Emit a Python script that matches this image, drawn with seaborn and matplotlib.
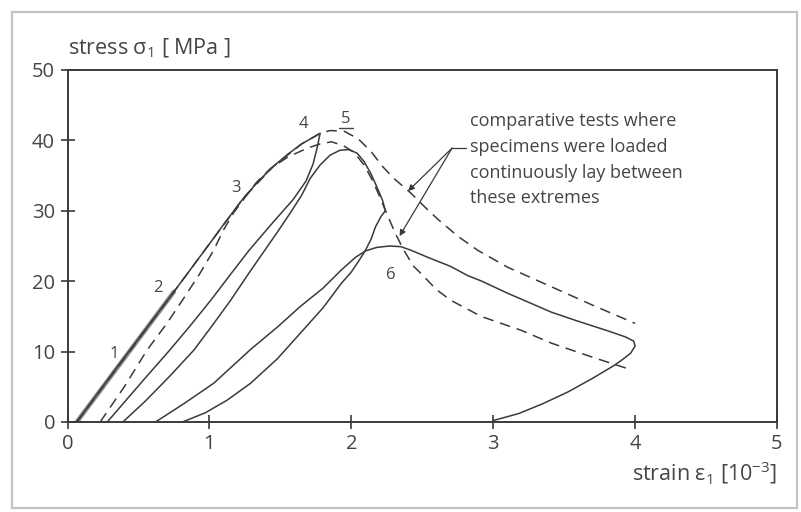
import pandas as pd
import matplotlib.pyplot as plt
import seaborn as sns
from matplotlib.patches import Rectangle

# ---- curves (strain in 1e-3, stress in MPa) ----
# thick band of first load/unload cycles (points 1 and 2)
band_x = [0.065, 0.75]
band_y = [0.0, 18.5]

# envelope, solid, up to point 4
env_x = [0.065, 0.35, 0.75, 1.0, 1.12, 1.24, 1.35, 1.45, 1.55, 1.65, 1.72, 1.78]
env_y = [0.0, 7.8, 18.5, 25.3, 28.6, 31.8, 34.3, 36.3, 38.0, 39.5, 40.3, 41.0]

# unloading from point 4
unload4_x = [1.78, 1.76, 1.73, 1.68, 1.59, 1.45, 1.28, 1.15, 1.01, 0.87, 0.72, 0.55, 0.40, 0.28]
unload4_y = [41.0, 39.0, 36.6, 34.2, 31.6, 28.4, 24.4, 21.0, 17.3, 13.8, 10.2, 6.3, 2.8, 0.0]

# reloading to the inner peak and down
reload_x = [0.39, 0.55, 0.72, 0.89, 1.02, 1.15, 1.27, 1.38, 1.48, 1.57, 1.65, 1.71, 1.78,
            1.85, 1.92, 1.98, 2.04, 2.09, 2.14, 2.18, 2.22, 2.24]
reload_y = [0.0, 3.0, 6.5, 10.2, 13.7, 17.3, 20.9, 24.1, 27.0, 29.7, 32.2, 34.6, 36.5,
            37.9, 38.6, 38.7, 38.2, 37.0, 35.2, 33.4, 31.5, 30.0]

# unloading after the inner peak
unload5_x = [2.24, 2.21, 2.17, 2.14, 2.10, 2.05, 2.0, 1.93, 1.80, 1.64, 1.48, 1.29, 1.125, 0.97, 0.81]
unload5_y = [30.0, 29.2, 27.7, 26.0, 24.4, 22.8, 21.3, 19.7, 16.2, 12.6, 9.0, 5.5, 3.1, 1.3, 0.0]

# reloading through point 6 to strain 4 and unloading
tail_x = [0.62, 0.82, 1.03, 1.29, 1.48, 1.64, 1.80, 1.93, 2.03, 2.10, 2.18, 2.27, 2.35, 2.42,
          2.55, 2.70, 2.82, 2.92, 3.10, 3.25, 3.41, 3.60, 3.80, 3.93, 3.99, 4.0, 3.97, 3.92,
          3.85, 3.70, 3.53, 3.35, 3.18, 3.0]
tail_y = [0.0, 2.6, 5.5, 10.3, 13.5, 16.4, 19.0, 21.6, 23.4, 24.3, 24.8, 25.0, 24.9, 24.4,
          23.3, 22.1, 20.8, 20.0, 18.3, 17.0, 15.6, 14.3, 13.0, 12.1, 11.5, 10.8, 9.8, 9.0,
          8.0, 6.2, 4.3, 2.6, 1.2, 0.2]

# comparative tests, dashed: upper (through 5) and lower
dash_hi_x = [0.065, 0.75, 1.0, 1.24, 1.45, 1.65, 1.78, 1.85, 1.95, 2.05, 2.14, 2.22, 2.30,
             2.42, 2.52, 2.61, 2.75, 2.89, 3.10, 3.40, 3.70, 4.0]
dash_hi_y = [0.0, 18.5, 25.3, 31.8, 36.3, 39.5, 41.0, 41.4, 41.3, 40.2, 38.4, 36.3, 34.6,
             32.5, 30.5, 28.8, 26.4, 24.4, 22.0, 19.3, 16.6, 14.0]
dash_lo_x = [0.23, 0.40, 0.56, 0.70, 0.81, 0.93, 1.03, 1.10, 1.17, 1.24, 1.33, 1.43, 1.55,
             1.69, 1.78, 1.86, 1.94, 2.02, 2.09, 2.15, 2.20, 2.25, 2.31, 2.37, 2.44, 2.515,
             2.60, 2.70, 2.915, 3.20, 3.41, 3.70, 3.975]
dash_lo_y = [0.0, 5.0, 10.2, 14.0, 17.3, 21.0, 24.4, 27.3, 29.7, 31.6, 34.0, 36.0, 37.6,
             38.9, 39.5, 39.8, 39.3, 38.3, 36.5, 34.3, 32.0, 29.6, 26.8, 24.4, 22.1, 20.6,
             18.8, 17.3, 15.0, 13.0, 11.2, 9.2, 7.4]

# load step numbers
step_labels = ['1', '2', '3', '4', '5', '6']
step_x = [0.33, 0.64, 1.19, 1.66, 1.96, 2.28]
step_y = [9.6, 19.0, 33.2, 42.3, 43.0, 20.9]

curves = {
    'band': (band_x, band_y),
    'envelope': (env_x, env_y),
    'unload4': (unload4_x, unload4_y),
    'reload': (reload_x, reload_y),
    'unload5': (unload5_x, unload5_y),
    'tail': (tail_x, tail_y),
    'dash_hi': (dash_hi_x, dash_hi_y),
    'dash_lo': (dash_lo_x, dash_lo_y),
}
rows = []
for name, (xs, ys) in curves.items():
    for i, (x, y) in enumerate(zip(xs, ys)):
        rows.append({'curve': name, 'order': i, 'strain': x, 'stress': y})
df = pd.DataFrame(rows)

sns.set_theme(style='white')
plt.rcParams['font.family'] = ['Open Sans', 'DejaVu Sans']
plt.rcParams['mathtext.fontset'] = 'custom'
plt.rcParams['mathtext.rm'] = 'Open Sans'
plt.rcParams['mathtext.it'] = 'Open Sans:italic'

ink = '#3a3a3a'
txt = '#454545'

fig = plt.figure(figsize=(8.01, 5.12), dpi=100)
ax = fig.add_axes([0.0843, 0.1758, 0.8857, 0.6875])

line_styles = {
    'band': dict(color='#8a8a8a', lw=3.2, linestyle='-'),
    'envelope': dict(color=ink, lw=1.1, linestyle='-'),
    'unload4': dict(color=ink, lw=1.1, linestyle='-'),
    'reload': dict(color=ink, lw=1.1, linestyle='-'),
    'unload5': dict(color=ink, lw=1.1, linestyle='-'),
    'tail': dict(color=ink, lw=1.1, linestyle='-'),
    'dash_hi': dict(color=ink, lw=1.1, linestyle=(0, (7, 4.5))),
    'dash_lo': dict(color=ink, lw=1.1, linestyle=(0, (7, 4.5))),
}
for name, sub in df.groupby('curve', sort=False):
    sns.lineplot(data=sub, x='strain', y='stress', sort=False, estimator=None,
                 ax=ax, **line_styles[name])

for lab, x, y in zip(step_labels, step_x, step_y):
    ax.text(x, y, lab, fontsize=12, color=txt, ha='center', va='center')
# step 5 is underlined in the original
ax.plot([1.91, 2.01], [41.75, 41.75], color=txt, lw=1.0)

# annotation with two arrows pointing at the dashed curves
note = 'comparative tests where\nspecimens were loaded\ncontinuously lay between\nthese extremes'
ax.text(2.84, 44.0, note, fontsize=13, color=txt, ha='left', va='top', linespacing=1.55)
ax.plot([2.71, 2.81], [38.9, 38.9], color=ink, lw=0.9)
arrow = dict(arrowstyle='-|>', color=ink, lw=0.9, mutation_scale=9, shrinkA=0, shrinkB=0)
ax.annotate('', xy=(2.40, 32.8), xytext=(2.71, 38.9), arrowprops=arrow)
ax.annotate('', xy=(2.34, 26.4), xytext=(2.71, 38.9), arrowprops=arrow)

ax.set_xlim(0, 5)
ax.set_ylim(0, 50)
ax.set_xticks([0, 1, 2, 3, 4, 5])
ax.set_yticks([0, 10, 20, 30, 40, 50])
ax.tick_params(direction='inout', length=10, width=1.2, color=ink, labelsize=14.5,
               labelcolor=txt, left=True, bottom=True, pad=4)
for sp in ax.spines.values():
    sp.set_color(ink)
    sp.set_linewidth(1.4)

ax.set_ylabel('stress σ$_1$ [ MPa ]', rotation=0, fontsize=15.5, color=txt, ha='left', va='baseline')
ax.yaxis.set_label_coords(0.0, 1.045)
ax.set_xlabel('strain ε$_1$ [10$^{-3}$]', fontsize=15.5, color=txt, ha='right', va='baseline')
ax.xaxis.set_label_coords(1.0, -0.165)

# light frame around the whole picture
fig.patches.append(Rectangle((0.0146, 0.008), 0.98, 0.969, transform=fig.transFigure,
                             fill=False, ec='#c4c4c4', lw=1.6))

fig.savefig('out.png', dpi=100)
